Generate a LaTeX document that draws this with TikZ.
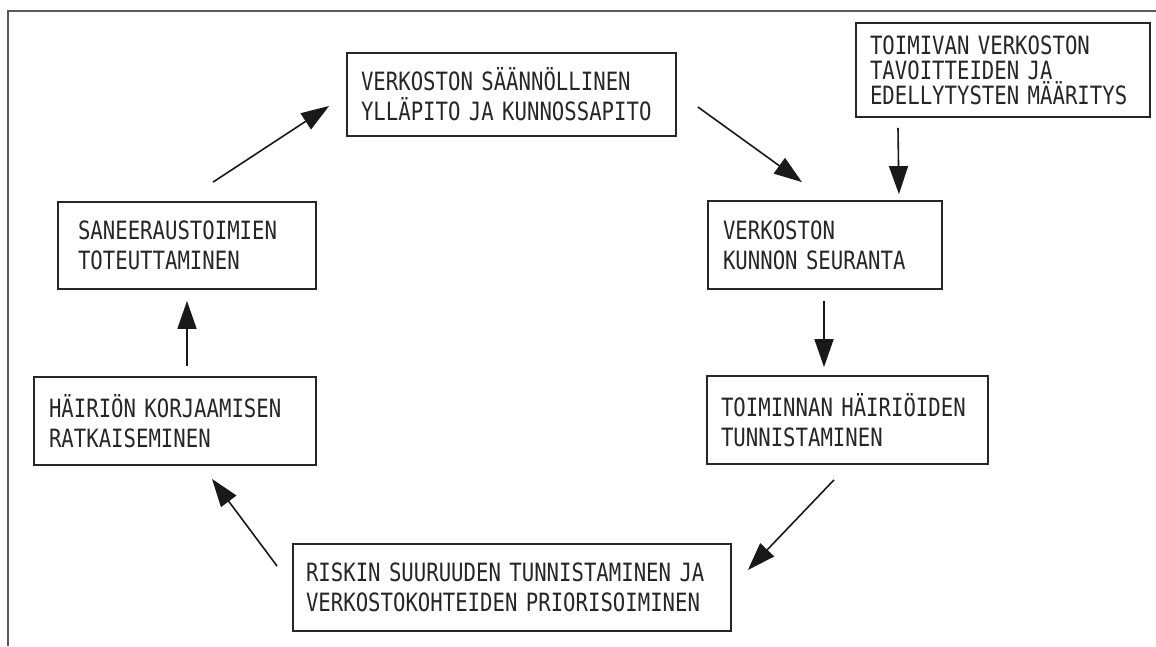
\documentclass[tikz,border=0pt]{standalone}
\usepackage{fontspec}
\newfontfamily\cadfont[FakeStretch=0.82]{DejaVu Sans Mono}
\usetikzlibrary{arrows.meta}

\begin{document}
\begin{tikzpicture}[
  x=1pt,y=-1pt,
  >={Triangle[length=28pt,width=19pt]},
  every node/.style={font=\cadfont\fontsize{25.2}{30}\selectfont,align=left,
    text=black!85},
  stage/.style={draw=black!85,line width=1.8pt,inner ysep=0pt},
  flow/.style={->,line width=1.6pt,black!90},
  frameline/.style={line width=2pt,black!65}]
  \useasboundingbox (0,0) rectangle (1156,646);
  \draw[frameline] (8,646) -- (8,11) -- (1156,11);

  \node[stage,text width=301pt,inner xsep=14pt,minimum height=83pt] (upkeep)
    at (511.5,94.5) {VERKOSTON SÄÄNNÖLLINEN\\YLLÄPITO JA KUNNOSSAPITO};
  \node[stage,text width=266pt,inner xsep=14pt,minimum height=94pt,
    font=\cadfont\fontsize{25.2}{25}\selectfont] (goals)
    at (1003,70) {TOIMIVAN VERKOSTON\\TAVOITTEIDEN JA\\EDELLYTYSTEN MÄÄRITYS};
  \node[stage,text width=204pt,inner xsep=15pt,minimum height=88pt] (monitor)
    at (825,245) {VERKOSTON\\KUNNON SEURANTA};
  \node[stage,text width=253pt,inner xsep=14pt,minimum height=88pt] (detect)
    at (847.5,420) {TOIMINNAN HÄIRIÖIDEN\\TUNNISTAMINEN};
  \node[stage,text width=412pt,inner xsep=13pt,minimum height=87pt] (risk)
    at (512,587.5) {RISKIN SUURUUDEN TUNNISTAMINEN JA\\VERKOSTOKOHTEIDEN PRIORISOIMINEN};
  \node[stage,text width=252pt,inner xsep=15pt,minimum height=88pt] (fix)
    at (175,421) {HÄIRIÖN KORJAAMISEN\\RATKAISEMINEN};
  \node[stage,text width=218pt,inner xsep=20pt,minimum height=87pt] (renov)
    at (187,245.5) {SANEERAUSTOIMIEN\\TOTEUTTAMINEN};

  \draw[flow] ([shift={(21,12.5)}]upkeep.east) -- ([shift={(-23,-18)}]monitor.north);
  \draw[flow] ([shift={(-105,10)}]goals.south) -- ([shift={(-44,-6)}]monitor.north east);
  \draw[flow] ([shift={(-1,11)}]monitor.south) -- ([shift={(-23.5,-8)}]detect.north);
  \draw[flow] ([shift={(-13.5,15)}]detect.south) -- ([shift={(16,-17.5)}]risk.east);
  \draw[flow] ([shift={(-15,23)}]risk.north west) -- ([shift={(37,13)}]fix.south);
  \draw[flow] ([shift={(12,-10)}]fix.north) -- ([shift={(0,11)}]renov.south);
  \draw[flow] ([shift={(26,-19)}]renov.north) -- ([shift={(-17,11.5)}]upkeep.west);
\end{tikzpicture}
\end{document}
